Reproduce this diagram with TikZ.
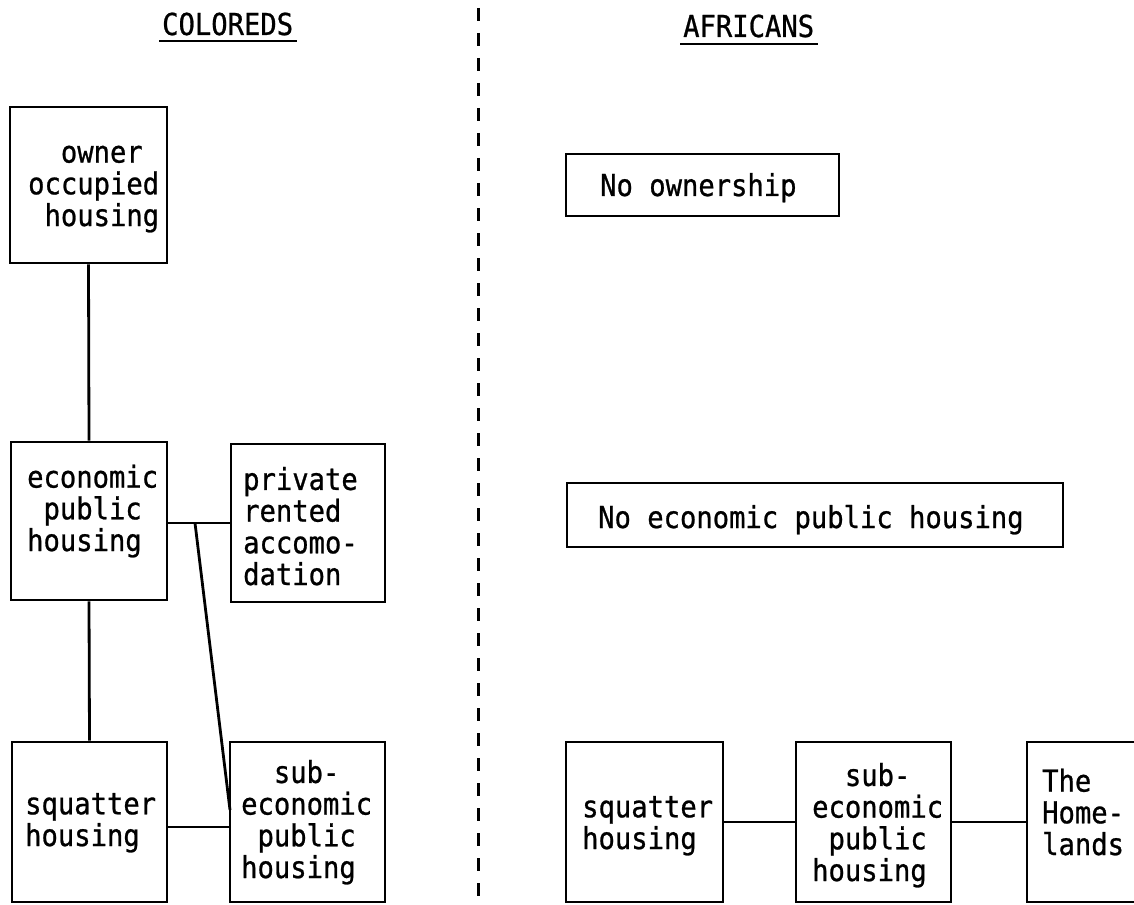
\documentclass[tikz,border=0pt]{standalone}
\usepackage{fontspec}
\newfontfamily\twfont[FakeStretch=0.9,FakeBold=0.8]{DejaVu Sans Mono}
\newcommand{\tfnt}{\twfont\fontsize{30.2pt}{31.7pt}\selectfont}
\begin{document}
\begin{tikzpicture}[x=1pt,y=-1pt,
  box/.style={draw, rectangle, line width=2.8pt, inner sep=0pt},
  txt/.style={anchor=base west, inner sep=0pt, align=left, font=\tfnt},
  conn/.style={line width=2.8pt},
  divider/.style={line width=3pt, dash pattern=on 13pt off 12pt}]
\useasboundingbox (0,0) rectangle (1134,904);
\clip (0,0) rectangle (1134,904);

% titles
\node[txt] (tcol) at (162,35) {COLOREDS};
\node[txt] (tafr) at (683,37) {AFRICANS};
\draw[line width=2.6pt] ([xshift=-3pt,yshift=-6pt]tcol.base west) -- ([xshift=4pt,yshift=-6pt]tcol.base east);
\draw[line width=2.6pt] ([xshift=-3pt,yshift=-7pt]tafr.base west) -- ([xshift=4pt,yshift=-7pt]tafr.base east);

% divider
\coordinate (dtopc) at (478,8);
\coordinate (dbot) at (478,904);
\draw[divider] (dtopc) -- (dbot);

% Coloreds boxes
\node[box, minimum width=157pt, minimum height=156pt] (owner) at (88.5,185) {};
\node[box, minimum width=156pt, minimum height=158pt] (econ) at (89,521) {};
\node[box, minimum width=154pt, minimum height=158pt] (priv) at (308,523) {};
\node[box, minimum width=155pt, minimum height=160pt] (sqc) at (89.5,822) {};
\node[box, minimum width=155pt, minimum height=160pt] (subc) at (307.5,822) {};

% Africans boxes
\node[box, minimum width=273pt, minimum height=62pt] (noown) at (702.5,185) {};
\node[box, minimum width=496pt, minimum height=64pt] (noecon) at (815,515) {};
\node[box, minimum width=157pt, minimum height=160pt] (sqa) at (644.5,822) {};
\node[box, minimum width=155pt, minimum height=160pt] (suba) at (873.5,822) {};
\node[box, minimum width=123pt, minimum height=160pt] (home) at (1088.5,822) {};

% texts (base anchor = baseline of last line)
\node[txt] (towner) at (28,226) {\phantom{xx}owner\\occupied\\\phantom{x}housing};
\node[txt] (tecon) at (27,551) {economic\\\phantom{x}public\\housing};
\node[txt] (tpriv) at (243,585) {private\\rented\\accomo-\\dation};
\node[txt] (tsqc) at (25,846) {squatter\\housing};
\node[txt] (tsubc) at (241,878) {\phantom{xx}sub-\\economic\\\phantom{x}public\\housing};
\node[txt] (tnoown) at (600,196) {No ownership};
\node[txt] (tnoecon) at (598,528) {No economic public housing};
\node[txt] (tsqa) at (582,849) {squatter\\housing};
\node[txt] (tsuba) at (812,881) {\phantom{xx}sub-\\economic\\\phantom{x}public\\housing};
\node[txt] (thome) at (1042,855) {The\\Home-\\lands};

% connectors Coloreds
\draw[conn] (owner.south) -- (econ.north);
\draw[conn] (econ.south) -- (sqc.north);
\draw[conn] (priv.west) -- (priv.west -| econ.east);
\coordinate (diagtop) at (195,523);
\coordinate (diagbot) at (230,810);
\draw[conn] (diagtop) -- (diagbot);
\draw[conn] ([yshift=-5pt]sqc.east) -- ([yshift=-5pt]sqc.east -| subc.west);

% connectors Africans
\draw[conn] (sqa.east) -- (suba.west);
\draw[conn] (suba.east) -- (home.west);
\end{tikzpicture}
\end{document}
